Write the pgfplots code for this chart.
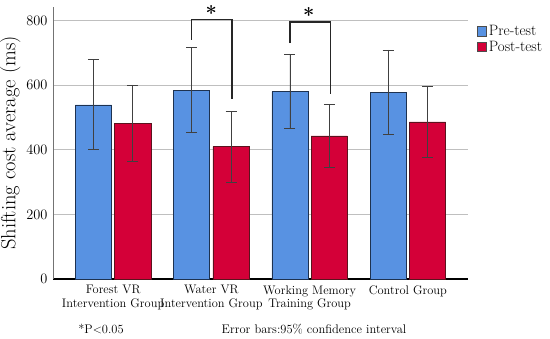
\documentclass[border=0pt]{standalone}
\usepackage{pgfplots}
\pgfplotsset{compat=1.18}
\definecolor{preblue}{RGB}{88,146,226}
\definecolor{postred}{RGB}{212,0,56}
\definecolor{preedge}{RGB}{30,50,80}
\definecolor{postedge}{RGB}{90,20,30}
\begin{document}
\begin{tikzpicture}[x=1pt,y=1pt]
\useasboundingbox (0,0) rectangle (550,339);
\begin{axis}[
  at={(53pt,60pt)}, anchor=south west,
  scale only axis, width=415pt, height=272pt,
  xmin=-0.612, xmax=3.612, ymin=0, ymax=842,
  clip=false,
  axis x line*=bottom, axis y line*=left,
  x axis line style={line width=1.6pt, black},
  y axis line style={line width=0.6pt, black!55},
  major tick length=0pt,
  ytick={0,200,400,600,800},
  ymajorgrids, grid style={black!25, line width=0.6pt},
  xtick={0,1,2,3},
  xticklabels={Forest VR\\Intervention Group, Water VR\\Intervention Group, Working Memory\\Training Group, Control Group},
  xticklabel style={align=center, font=\fontsize{12.4}{13.5}\selectfont, yshift=-3pt, anchor=north},
  yticklabel style={font=\fontsize{14.5}{14.5}\selectfont, xshift=-2pt},
  ylabel={Shifting cost average (ms)},
  ylabel style={font=\fontsize{20.5}{20.5}\selectfont, yshift=-1pt},
  ybar, bar width=0.367,
  legend style={at={(1.022,0.94)}, anchor=north west, draw=none, fill=none,
    font=\fontsize{15}{15}\selectfont, inner sep=0pt, row sep=0pt,
    legend cell align=left},
  legend image code/.code={\draw[#1, draw=black!70] (0pt,-4.5pt) rectangle (9pt,5pt);},
  error bars/error bar style={line width=0.6pt, black!75},
  error bars/error mark options={rotate=90, mark size=5.5pt, line width=0.6pt, black!75},
]
\addplot[bar shift=0pt, fill=preblue, draw=preedge, line width=0.6pt,
  error bars/.cd, y dir=both, y explicit]
  coordinates {
   (-0.2,539) += (0,141) -= (0,139)
   (0.8,585) += (0,131) -= (0,130)
   (1.8,580) += (0,117) -= (0,115)
   (2.8,578) += (0,131) -= (0,131)
  };
\addlegendentry{Pre-test}
\addplot[bar shift=0pt, fill=postred, draw=postedge, line width=0.6pt,
  error bars/.cd, y dir=both, y explicit]
  coordinates {
   (0.2,482) += (0,119) -= (0,117)
   (1.2,410) += (0,110) -= (0,110)
   (2.2,443) += (0,98) -= (0,98)
   (3.2,486) += (0,110) -= (0,110)
  };
\addlegendentry{Post-test}
\draw[line width=1.4pt, black!85] (axis cs:0.8,740) -- (axis cs:0.8,803) -- (axis cs:1.21,803) -- (axis cs:1.21,557);
\draw[line width=1.4pt, black!85] (axis cs:1.8,730) -- (axis cs:1.8,795) -- (axis cs:2.21,795) -- (axis cs:2.21,573);
\node[font=\fontsize{20}{20}\selectfont\bfseries] at (axis cs:1.0,822) {*};
\node[font=\fontsize{20}{20}\selectfont\bfseries] at (axis cs:1.99,816) {*};
\end{axis}
\node[font=\fontsize{12.5}{12.5}\selectfont] at (101,10) {*P$<$0.05};
\node[font=\fontsize{12.5}{12.5}\selectfont] at (314,10) {Error bars:95\% confidence interval};
\end{tikzpicture}
\end{document}
